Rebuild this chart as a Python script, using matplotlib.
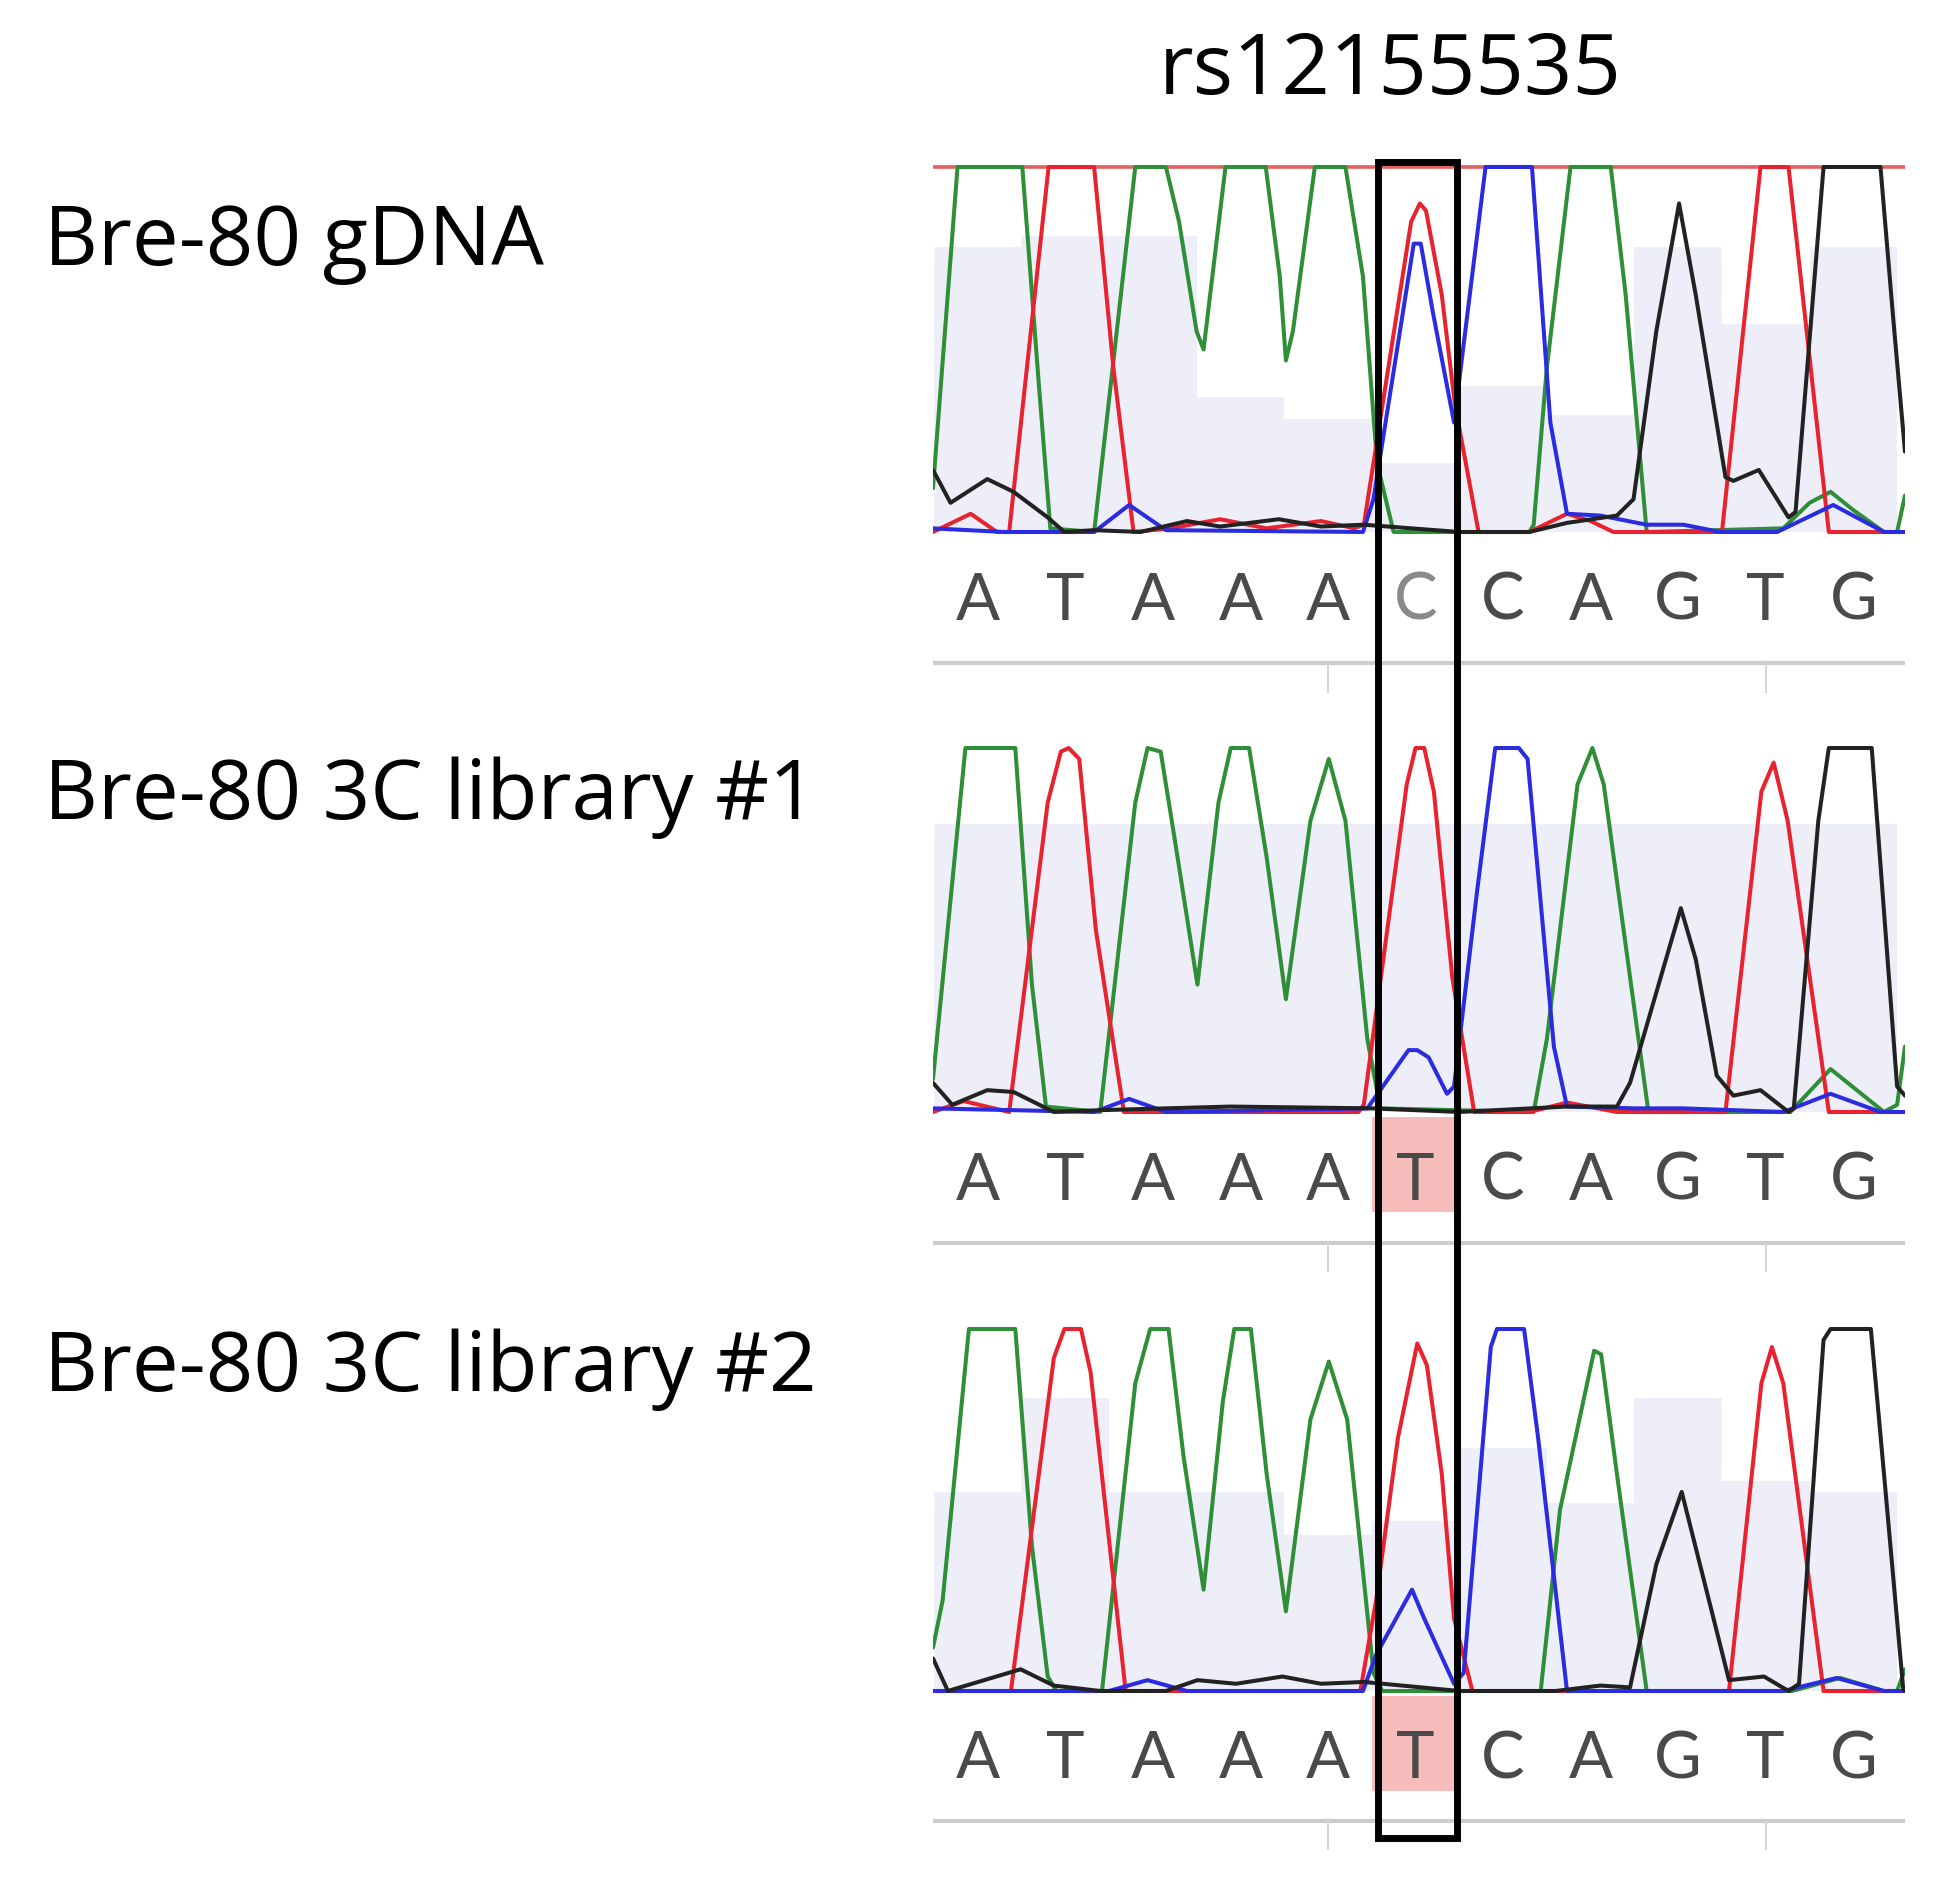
import matplotlib
matplotlib.use('Agg')
import matplotlib.pyplot as plt
from matplotlib.patches import Rectangle
import matplotlib.transforms as mtransforms

# ---------------- data ----------------
snp_name = 'rs12155535'
snp_index = 5
sample_labels = ['Bre-80 gDNA', 'Bre-80 3C library #1', 'Bre-80 3C library #2']
calls_gdna = ['A', 'T', 'A', 'A', 'A', 'C', 'C', 'A', 'G', 'T', 'G']
calls_3c1 = ['A', 'T', 'A', 'A', 'A', 'T', 'C', 'A', 'G', 'T', 'G']
calls_3c2 = ['A', 'T', 'A', 'A', 'A', 'T', 'C', 'A', 'G', 'T', 'G']
ruler_ticks = [4, 9]

# per-base quality shading (fraction of trace height)
quality_gdna = [0.78, 0.81, 0.81, 0.37, 0.31, 0.19, 0.40, 0.32, 0.78, 0.57, 0.78]
quality_3c1 = [0.79, 0.79, 0.79, 0.79, 0.79, 0.79, 0.79, 0.79, 0.79, 0.79, 0.79]
quality_3c2 = [0.55, 0.81, 0.55, 0.55, 0.43, 0.47, 0.67, 0.52, 0.81, 0.58, 0.55]

# trace vertices: (position in bases, signal as fraction of full scale)
gdna_A = [(-0.51, 0.12), (-0.23, 1.0), (0.51, 1.0), (0.70, 0.40), (0.83, 0.01), (1.33, 0.0),
          (1.80, 1.0), (2.15, 1.0), (2.30, 0.85), (2.50, 0.55), (2.58, 0.50), (2.83, 1.0),
          (3.29, 1.0), (3.45, 0.70), (3.52, 0.47), (3.60, 0.55), (3.85, 1.0), (4.20, 1.0),
          (4.40, 0.70), (4.56, 0.19), (4.75, 0.0), (6.30, 0.0), (6.35, 0.02), (6.50, 0.45),
          (6.77, 1.0), (7.23, 1.0), (7.40, 0.65), (7.64, 0.0), (9.20, 0.01), (9.50, 0.08),
          (9.74, 0.11), (10.0, 0.06), (10.35, 0.0), (10.50, 0.0), (10.59, 0.10)]
gdna_T = [(-0.51, 0.0), (-0.08, 0.05), (0.22, 0.0), (0.36, 0.0), (0.81, 1.0), (1.33, 1.0),
          (1.55, 0.45), (1.78, 0.0), (2.20, 0.01), (2.77, 0.035), (3.30, 0.01), (3.92, 0.03),
          (4.30, 0.01), (4.41, 0.02), (4.95, 0.85), (5.05, 0.90), (5.12, 0.88), (5.30, 0.65),
          (5.45, 0.35), (5.72, 0.0), (6.30, 0.0), (6.73, 0.05), (7.00, 0.03), (7.26, 0.0),
          (8.50, 0.0), (8.94, 1.0), (9.26, 1.0), (9.72, 0.0), (10.59, 0.0)]
gdna_C = [(-0.51, 0.01), (0.30, 0.0), (1.33, 0.0), (1.73, 0.074), (2.15, 0.005), (4.40, 0.0),
          (4.52, 0.09), (4.98, 0.79), (5.06, 0.79), (5.20, 0.60), (5.44, 0.30), (5.80, 1.0),
          (6.33, 1.0), (6.54, 0.30), (6.73, 0.05), (7.11, 0.045), (7.64, 0.02), (8.06, 0.02),
          (8.48, 0.0), (9.13, 0.0), (9.77, 0.074), (10.35, 0.0), (10.59, 0.0)]
gdna_G = [(-0.51, 0.17), (-0.31, 0.08), (0.11, 0.145), (0.41, 0.11), (0.80, 0.04), (0.99, 0.0),
          (1.33, 0.005), (1.86, 0.0), (2.39, 0.03), (2.77, 0.015), (3.44, 0.035), (3.92, 0.015),
          (4.41, 0.02), (5.50, 0.0), (6.30, 0.0), (6.73, 0.025), (7.30, 0.045), (7.49, 0.09),
          (7.75, 0.55), (8.01, 0.90), (8.20, 0.65), (8.54, 0.15), (8.63, 0.14), (8.92, 0.17),
          (9.26, 0.04), (9.34, 0.055), (9.66, 1.0), (10.31, 1.0), (10.45, 0.60), (10.59, 0.22)]

lib1_A = [(-0.51, 0.09), (-0.14, 1.0), (0.43, 1.0), (0.62, 0.35), (0.78, 0.015), (1.40, 0.0),
          (1.80, 0.85), (1.94, 1.0), (2.09, 0.99), (2.25, 0.75), (2.51, 0.35), (2.75, 0.85),
          (2.89, 1.0), (3.10, 1.0), (3.30, 0.70), (3.52, 0.31), (3.80, 0.80), (4.01, 0.97),
          (4.20, 0.80), (4.45, 0.20), (4.60, 0.01), (6.35, 0.0), (6.50, 0.20), (6.85, 0.90),
          (7.02, 1.0), (7.15, 0.90), (7.66, 0.0), (9.28, 0.0), (9.74, 0.118), (10.35, 0.0),
          (10.50, 0.02), (10.59, 0.18)]
lib1_T = [(-0.51, 0.0), (-0.16, 0.03), (0.36, 0.0), (0.80, 0.85), (0.95, 0.99), (1.04, 1.0),
          (1.16, 0.97), (1.35, 0.50), (1.67, 0.0), (4.35, 0.0), (4.41, 0.02), (4.90, 0.90),
          (5.00, 1.0), (5.10, 1.0), (5.21, 0.88), (5.42, 0.37), (5.67, 0.0), (6.30, 0.0),
          (6.73, 0.026), (7.30, 0.0), (8.54, 0.0), (8.95, 0.88), (9.09, 0.96), (9.25, 0.80),
          (9.72, 0.0), (10.59, 0.0)]
lib1_C = [(-0.51, 0.01), (1.33, 0.0), (1.73, 0.036), (2.15, 0.0), (4.45, 0.01), (4.92, 0.17),
          (5.02, 0.17), (5.15, 0.15), (5.36, 0.05), (5.44, 0.07), (5.70, 0.60), (5.91, 1.0),
          (6.18, 1.0), (6.28, 0.97), (6.58, 0.18), (6.73, 0.015), (7.50, 0.01), (8.06, 0.01),
          (9.20, 0.0), (9.74, 0.05), (10.31, 0.0), (10.59, 0.0)]
lib1_G = [(-0.51, 0.08), (-0.29, 0.02), (0.11, 0.06), (0.41, 0.055), (0.87, 0.0), (1.40, 0.005),
          (2.89, 0.015), (4.50, 0.01), (5.50, 0.0), (6.73, 0.015), (7.30, 0.015), (7.45, 0.08),
          (8.03, 0.56), (8.20, 0.42), (8.44, 0.10), (8.63, 0.045), (8.94, 0.06), (9.26, 0.0),
          (9.32, 0.01), (9.60, 0.80), (9.72, 1.0), (10.21, 1.0), (10.50, 0.07), (10.59, 0.045)]

lib2_A = [(-0.51, 0.12), (-0.40, 0.25), (-0.10, 1.0), (0.43, 1.0), (0.62, 0.40), (0.80, 0.04),
          (0.90, 0.0), (1.42, 0.0), (1.80, 0.85), (1.97, 1.0), (2.18, 1.0), (2.35, 0.65),
          (2.58, 0.28), (2.80, 0.80), (2.93, 1.0), (3.12, 1.0), (3.30, 0.60), (3.52, 0.22),
          (3.80, 0.75), (4.01, 0.91), (4.22, 0.75), (4.52, 0.05), (4.62, 0.0), (6.43, 0.0),
          (6.65, 0.50), (7.04, 0.94), (7.12, 0.93), (7.30, 0.60), (7.64, 0.0), (9.30, 0.0),
          (9.85, 0.036), (10.35, 0.0), (10.50, 0.0), (10.59, 0.06)]
lib2_T = [(-0.51, 0.0), (0.38, 0.0), (0.87, 0.92), (0.99, 1.0), (1.18, 1.0), (1.29, 0.88),
          (1.69, 0.0), (4.37, 0.0), (4.55, 0.25), (4.80, 0.70), (5.02, 0.96), (5.13, 0.90),
          (5.30, 0.60), (5.44, 0.20), (5.65, 0.0), (8.58, 0.0), (8.95, 0.85), (9.07, 0.95),
          (9.20, 0.85), (9.66, 0.0), (10.59, 0.0)]
lib2_C = [(-0.51, 0.0), (1.50, 0.0), (1.94, 0.03), (2.39, 0.0), (4.40, 0.0), (4.55, 0.10),
          (4.96, 0.28), (5.10, 0.20), (5.44, 0.02), (5.55, 0.05), (5.86, 0.95), (5.93, 1.0),
          (6.24, 1.0), (6.40, 0.70), (6.73, 0.0), (9.20, 0.0), (9.81, 0.036), (10.35, 0.0),
          (10.59, 0.0)]
lib2_G = [(-0.51, 0.09), (-0.34, 0.0), (0.49, 0.06), (0.87, 0.015), (1.40, 0.0), (2.15, 0.0),
          (2.51, 0.03), (2.95, 0.02), (3.48, 0.04), (3.92, 0.02), (4.41, 0.025), (5.50, 0.0),
          (6.60, 0.0), (7.11, 0.015), (7.45, 0.01), (7.75, 0.35), (8.04, 0.55), (8.30, 0.30),
          (8.58, 0.03), (8.98, 0.04), (9.26, 0.0), (9.38, 0.02), (9.66, 0.97), (9.74, 1.0),
          (10.20, 1.0), (10.35, 0.60), (10.57, 0.005), (10.59, 0.0)]

# ---------------- style / layout ----------------
W, H = 1960, 1891
DPI = 100
fig = plt.figure(figsize=(W / DPI, H / DPI), dpi=DPI)
fig.patch.set_facecolor('white')

col = {'A': '#2f8f36', 'T': '#e8232f', 'C': '#2b2be0', 'G': '#222222'}
shade = '#eeeef9'
pink = '#f6bcbc'
letter_col = '#4a4a4a'

x_left_px, x_right_px = 933, 1905
xlim = (-0.51, 10.59)
ylim = (-0.50, 1.012)
tops_px = [167, 748, 1329]
bases_px = [532, 1112, 1691]

panels = [
    (calls_gdna, quality_gdna, [('A', gdna_A), ('T', gdna_T), ('C', gdna_C), ('G', gdna_G)]),
    (calls_3c1, quality_3c1, [('A', lib1_A), ('T', lib1_T), ('C', lib1_C), ('G', lib1_G)]),
    (calls_3c2, quality_3c2, [('A', lib2_A), ('T', lib2_T), ('C', lib2_C), ('G', lib2_G)]),
]
label_baselines_px = [265, 819, 1391]

axes = []
for k, (calls, qual, traces) in enumerate(panels):
    scale = bases_px[k] - tops_px[k]
    top_px = bases_px[k] - ylim[1] * scale
    bot_px = bases_px[k] - ylim[0] * scale
    ax = fig.add_axes([x_left_px / W, 1 - bot_px / H,
                       (x_right_px - x_left_px) / W, (bot_px - top_px) / H])
    ax.set_xlim(*xlim)
    ax.set_ylim(*ylim)
    ax.axis('off')
    pos = list(range(len(calls)))
    ax.bar(pos, qual, width=1.0, bottom=0, color=shade, zorder=0, linewidth=0)
    # highlight of the differing call
    for i, c in enumerate(calls):
        if c != calls_gdna[i]:
            ax.add_patch(Rectangle((i - 0.5, -0.275), 1.0, 0.26, facecolor=pink,
                                   edgecolor='none', zorder=0.5))
    if k == 0:
        ax.axhline(1.0, color='#e46060', lw=2.6, zorder=1)
    for b, pts in traces:
        xs = [p[0] for p in pts]
        ys = [p[1] for p in pts]
        ax.plot(xs, ys, color=col[b], lw=2.9, solid_joinstyle='round',
                solid_capstyle='round', zorder=2)
    for i, c in enumerate(calls):
        lc = '#8a8a8a' if (k == 0 and i == snp_index) else letter_col
        ax.text(i, -0.19, c, ha='center', va='center', fontsize=47, color=lc,
                family=['Lato', 'DejaVu Sans'])
    ax.axhline(-0.36, color='#cccccc', lw=3, zorder=1)
    ax.vlines(ruler_ticks, -0.44, -0.36, color='#d6d6d6', lw=1.5)
    axes.append(ax)

    fig.text(44 / W, 1 - label_baselines_px[k] / H, sample_labels[k], fontsize=60,
             va='baseline', ha='left', color='black', family=['Open Sans', 'DejaVu Sans'])

# title
fig.text(1390 / W, 1 - 94 / H, snp_name, fontsize=61, ha='center', va='baseline',
         color='black', family=['Open Sans', 'DejaVu Sans'])

# SNP box across all three panels
trans = mtransforms.blended_transform_factory(axes[0].transData, fig.transFigure)
box_top = 1 - 162 / H
box_bot = 1 - 1838 / H
fig.patches.append(Rectangle((snp_index - 0.43, box_bot), 0.90, box_top - box_bot,
                             transform=trans, fill=False, edgecolor='black', lw=5,
                             zorder=10))

fig.savefig('out.png', dpi=DPI, facecolor='white')
